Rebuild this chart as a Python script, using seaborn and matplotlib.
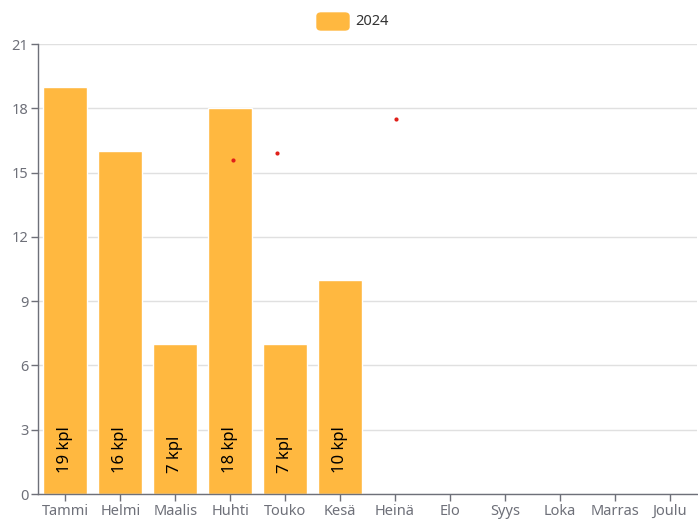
import matplotlib.pyplot as plt
import seaborn as sns
import pandas as pd
from matplotlib.patches import FancyBboxPatch

months = ['Tammi', 'Helmi', 'Maalis', 'Huhti', 'Touko', 'Kesä',
          'Heinä', 'Elo', 'Syys', 'Loka', 'Marras', 'Joulu']
counts_2024 = [19, 16, 7, 18, 7, 10, None, None, None, None, None, None]

# stray red dots (x as category position, y value)
dot_x = [3.05, 3.86, 6.02]
dot_y = [15.6, 15.9, 17.5]

sns.set_style('white')
plt.rcParams['font.family'] = ['Noto Sans', 'DejaVu Sans']

df = pd.DataFrame({'month': months, 'count': counts_2024})
df['count'] = df['count'].astype(float)

fig = plt.figure(figsize=(6.98, 5.23), dpi=100)
ax = fig.add_axes([38 / 698, 1 - 494 / 523, 659 / 698, 450 / 523])

sns.barplot(data=df, x='month', y='count', order=months, color='#FFB840',
            saturation=1, width=0.8, ax=ax, zorder=2)

for i, v in enumerate(counts_2024):
    if v is None:
        continue
    ax.annotate(f'{v} kpl', xy=(i, 0), xytext=(0, 15), textcoords='offset points',
                rotation=90, ha='center', va='bottom', fontsize=12, color='black',
                zorder=4)

ax.scatter(dot_x, dot_y, s=9, color='#E0201A', zorder=5, linewidths=0)

ax.set_xlim(-0.5, 11.5)
ax.set_ylim(0, 21)
ax.set_yticks(range(0, 22, 3))
ax.grid(axis='y', color='#E0E0E0', linewidth=1, zorder=0)
ax.set_axisbelow(True)
for s in ['top', 'right']:
    ax.spines[s].set_visible(False)
for s in ['left', 'bottom']:
    ax.spines[s].set_color('#6E7079')
    ax.spines[s].set_linewidth(1)
ax.tick_params(axis='both', bottom=True, left=True, colors='#6E7079',
               labelcolor='#6E7079', length=5, width=1, labelsize=10.5, pad=2)
ax.set_xlabel('')
ax.set_ylabel('')

# legend
fig.patches.append(FancyBboxPatch((317 / 698, 1 - 30 / 523), 32 / 698, 17 / 523,
                                  boxstyle='round,pad=0,rounding_size=0.006',
                                  transform=fig.transFigure, color='#FFB840'))
fig.text(355 / 698, 1 - 21.5 / 523, '2024', ha='left', va='center',
         fontsize=10.5, color='#333333')

fig.savefig('out.png', dpi=100)
